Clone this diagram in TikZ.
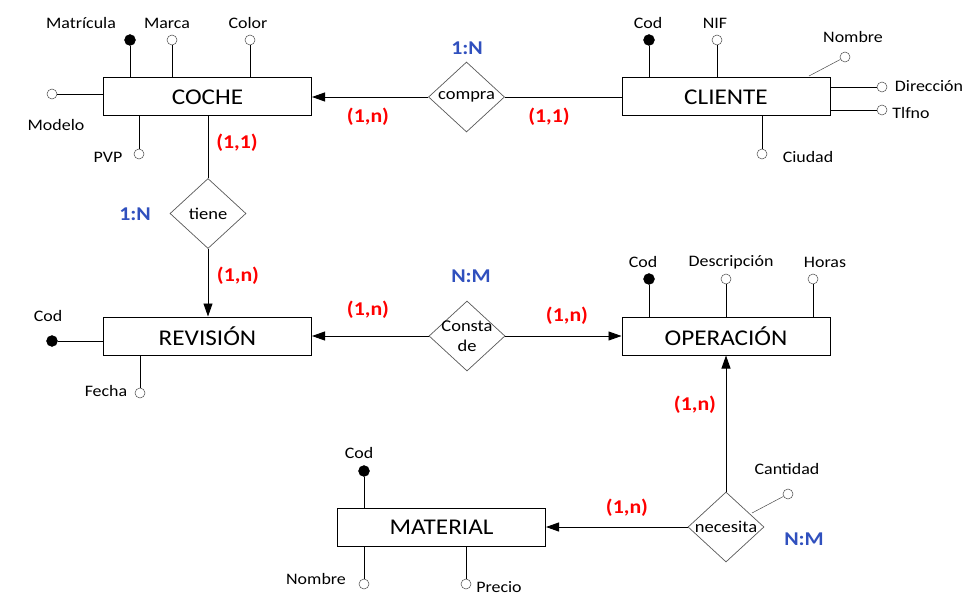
\documentclass[tikz,border=0pt]{standalone}
\usepackage{fontspec}
\setmainfont[FakeStretch=1.12]{Carlito}
\usetikzlibrary{shapes.geometric,arrows.meta}
\definecolor{cardred}{RGB}{255,0,0}
\definecolor{relblue}{RGB}{48,80,190}
\begin{document}
\begin{tikzpicture}[x=1pt,y=-1pt,
 entity/.style={draw,line width=1pt,minimum width=208pt,minimum height=38pt,inner sep=0pt,font=\fontsize{22.5}{24}\selectfont},
 rel/.style={draw=black!65,line width=0.7pt,shape=diamond,aspect=1,minimum width=76pt,minimum height=70pt,inner sep=0pt},
 reltext/.style={inner sep=0pt,align=center,font=\fontsize{16.5}{20}\selectfont},
 key/.style={circle,fill=black,draw=black,inner sep=0pt,minimum size=11pt},
 attr/.style={circle,draw=black!70,line width=0.5pt,fill=white,inner sep=0pt,minimum size=10pt},
 lab/.style={inner sep=0pt,font=\fontsize{16}{18}\selectfont},
 card/.style={text=cardred,font=\bfseries\fontsize{19.5}{20}\selectfont,inner sep=0pt},
 ratio/.style={text=relblue,font=\bfseries\fontsize{19.5}{20}\selectfont,inner sep=0pt},
 link/.style={line width=0.9pt},
 thin/.style={draw=black!70,line width=0.5pt},
 arr/.style={link,-{Triangle[length=13pt,width=9pt]}},
]
\fill[white] (0,0) rectangle (974,604);
\useasboundingbox (0,0) rectangle (974,604);

% entities
\node[entity] (coche) at (207.5,97) {COCHE};
\node[entity] (cliente) at (726,97) {CLIENTE};
\node[entity] (revision) at (207.5,336) {REVISIÓN};
\node[entity] (operacion) at (726,336) {OPERACIÓN};
\node[entity] (material) at (441.5,527) {MATERIAL};

% relationships
\node[rel,label={[reltext]center:compra}] (compra) at (466.5,97) {};
\node[rel,label={[reltext]center:tiene}] (tiene) at (208,213.5) {};
\node[rel,label={[reltext]center:{Consta\\de}}] (consta) at (467,336) {};
\node[rel,label={[reltext]center:necesita}] (necesita) at (726,527) {};

% connectors
\draw[arr] (compra.west) -- (coche.east);
\draw[link] (compra.east) -- (cliente.west);
\draw[link] (tiene.north) -- (tiene.north |- coche.south);
\draw[arr] (tiene.south) -- (tiene.south |- revision.north);
\draw[arr] (consta.west) -- (revision.east);
\draw[arr] (consta.east) -- (operacion.west);
\draw[arr] (necesita.north) -- (operacion.south);
\draw[arr] (necesita.west) -- (material.east);

% COCHE attributes
\node[key] (cMat) at (130,40) {};
\draw[link] (cMat) -- (cMat |- coche.north);
\node[attr] (cMar) at (172,40) {};
\draw[link] (cMar) -- (cMar |- coche.north);
\node[attr] (cCol) at (250,40) {};
\draw[link] (cCol) -- (cCol |- coche.north);
\node[attr] (cMod) at (52,94) {};
\draw[link] (cMod) -- (cMod -| coche.west);
\node[attr] (cPvp) at (139,154) {};
\draw[link] (cPvp) -- (cPvp |- coche.south);
\node[lab] (tMat) at (81,23) {Matrícula};
\node[lab] (tMar) at (167,23) {Marca};
\node[lab] (tCol) at (248,23) {Color};
\node[lab] (tMod) at (56,125) {Modelo};
\node[lab] (tPvp) at (108,157) {PVP};

% CLIENTE attributes
\node[key] (clCod) at (649,40) {};
\draw[link] (clCod) -- (clCod |- cliente.north);
\node[attr] (clNif) at (717,40) {};
\draw[link] (clNif) -- (clNif |- cliente.north);
\node[attr] (clNom) at (845,57) {};
\coordinate (clNomEnd) at (809,76);
\draw[thin] (clNom) -- (clNomEnd);
\node[attr] (clDir) at (882,87) {};
\draw[link] (clDir) -- (clDir -| cliente.east);
\node[attr] (clTel) at (882,110) {};
\draw[link] (clTel) -- (clTel -| cliente.east);
\node[attr] (clCiu) at (762,154) {};
\draw[link] (clCiu) -- (clCiu |- cliente.south);
\node[lab] (tclCod) at (648,23) {Cod};
\node[lab] (tclNif) at (715,23) {NIF};
\node[lab] (tclNom) at (853,37) {Nombre};
\node[lab] (tclDir) at (929,86) {Dirección};
\node[lab] (tclTel) at (911,113) {Tlfno};
\node[lab] (tclCiu) at (808,157) {Ciudad};

% OPERACION attributes
\node[key] (oCod) at (649,279) {};
\draw[link] (oCod) -- (oCod |- operacion.north);
\node[attr] (oDes) at (726,279) {};
\draw[link] (oDes) -- (oDes |- operacion.north);
\node[attr] (oHor) at (813,279) {};
\draw[link] (oHor) -- (oHor |- operacion.north);
\node[lab] (toCod) at (643,262) {Cod};
\node[lab] (toDes) at (731,262) {Descripción};
\node[lab] (toHor) at (825,262) {Horas};

% REVISION attributes
\node[key] (rCod) at (52,341) {};
\draw[link] (rCod) -- (rCod -| revision.west);
\node[attr] (rFec) at (140,393) {};
\draw[link] (rFec) -- (rFec |- revision.south);
\node[lab] (trCod) at (48,316) {Cod};
\node[lab] (trFec) at (106,391) {Fecha};

% MATERIAL attributes
\node[key] (mCod) at (364,471) {};
\draw[link] (mCod) -- (mCod |- material.north);
\node[attr] (mNom) at (364,584) {};
\draw[link] (mNom) -- (mNom |- material.south);
\node[attr] (mPre) at (466,584) {};
\draw[link] (mPre) -- (mPre |- material.south);
\node[lab] (tmCod) at (359,453) {Cod};
\node[lab] (tmNom) at (316,579) {Nombre};
\node[lab] (tmPre) at (499,587) {Precio};

% necesita attribute
\node[attr] (nCan) at (788,494) {};
\coordinate (nCanEnd) at (752,513);
\draw[thin] (nCan) -- (nCanEnd);
\node[lab] (tnCan) at (787,469) {Cantidad};

% cardinalities
\node[card] (k1) at (368,117) {(1,n)};
\node[card] (k2) at (549,117) {(1,1)};
\node[card] (k3) at (237,143) {(1,1)};
\node[card] (k4) at (238,276) {(1,n)};
\node[card] (k5) at (368,310) {(1,n)};
\node[card] (k6) at (567,316) {(1,n)};
\node[card] (k7) at (695,405) {(1,n)};
\node[card] (k8) at (627,508) {(1,n)};

% ratios
\node[ratio] (r1) at (467,48) {1:N};
\node[ratio] (r2) at (135,214) {1:N};
\node[ratio] (r3) at (471,276) {N:M};
\node[ratio] (r4) at (804,539) {N:M};
\end{tikzpicture}
\end{document}
